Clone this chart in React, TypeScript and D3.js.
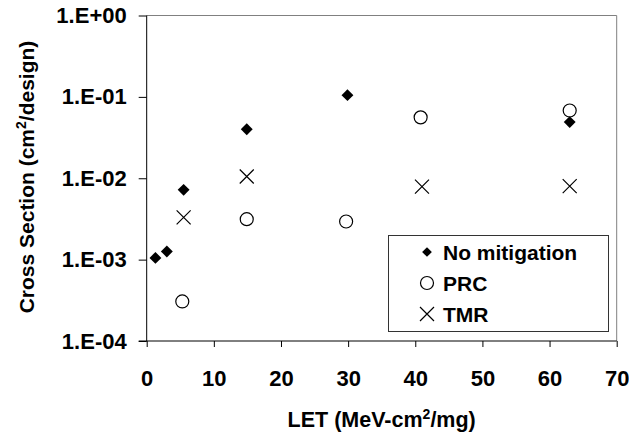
import React, { useEffect, useRef } from 'react';
import * as d3 from 'd3';

// LET (MeV-cm2/mg) and cross section (cm2/design) per design
const noMitigationLet = [1.3, 3.0, 5.5, 14.9, 29.9, 63.0];
const noMitigationCs = [1.05e-3, 1.26e-3, 7.2e-3, 4.0e-2, 1.05e-1, 4.9e-2];
const prcLet = [5.3, 14.9, 29.7, 40.8, 63.0];
const prcCs = [3.06e-4, 3.14e-3, 2.94e-3, 5.6e-2, 6.8e-2];
const tmrLet = [5.5, 14.9, 41.0, 63.0];
const tmrCs = [3.3e-3, 1.05e-2, 7.9e-3, 8.0e-3];

const xTicks = [0, 10, 20, 30, 40, 50, 60, 70];
const yTicks = [1e-4, 1e-3, 1e-2, 1e-1, 1];
const yTickLabels = ['1.E-04', '1.E-03', '1.E-02', '1.E-01', '1.E+00'];
const legendLabels = ['No mitigation', 'PRC', 'TMR'];

const W = 629;
const H = 433;
const FONT = '"Liberation Sans", Arial, sans-serif';

const App = () => {
    const ref = useRef<SVGSVGElement | null>(null);

    useEffect(() => {
        const svg = d3.select(ref.current);
        svg.selectAll('*').remove();

        const left = 146.7, right = 616.7, top = 15.5, bottom = 341;
        const x = d3.scaleLinear().domain([0, 70]).range([left, right]);
        const y = d3.scaleLog().domain([1e-4, 1]).range([bottom, top]);

        // frame
        svg.append('line').attr('x1', left).attr('x2', right).attr('y1', top).attr('y2', top)
            .attr('stroke', '#808080').attr('stroke-width', 1);
        svg.append('line').attr('x1', right).attr('x2', right).attr('y1', top).attr('y2', bottom)
            .attr('stroke', '#808080').attr('stroke-width', 1);

        const yAxis = d3.axisLeft(y)
            .tickValues(yTicks)
            .tickSize(8)
            .tickFormat((d, i) => yTickLabels[i]);
        const gy = svg.append('g').attr('transform', `translate(${left},0)`).call(yAxis);
        gy.select('.domain').attr('stroke', '#000').attr('d', `M0,${top}V${bottom}`);
        gy.selectAll('.tick line').attr('stroke', '#000');
        gy.selectAll('.tick text')
            .attr('x', -20)
            .attr('fill', '#000')
            .style('font-family', FONT).style('font-size', '22px').style('font-weight', 'bold');

        const xAxis = d3.axisBottom(x).tickValues(xTicks).tickSize(6).tickFormat(d3.format('d'));
        const gx = svg.append('g').attr('transform', `translate(0,${bottom})`).call(xAxis);
        gx.select('.domain').attr('stroke', '#000').attr('d', `M${left - 8},0H${right}`);
        gx.selectAll('.tick line').attr('stroke', '#000');
        gx.selectAll('.tick text')
            .attr('y', 29)
            .attr('dy', '0.71em')
            .attr('fill', '#000')
            .style('font-family', FONT).style('font-size', '22px').style('font-weight', 'bold');

        // axis titles
        const xt = svg.append('text').attr('x', (left + right) / 2).attr('y', 427)
            .attr('text-anchor', 'middle')
            .style('font-family', FONT).style('font-size', '21.5px').style('font-weight', 'bold');
        xt.append('tspan').text('LET (MeV-cm');
        xt.append('tspan').attr('dy', -8).style('font-size', '14px').text('2');
        xt.append('tspan').attr('dy', 8).text('/mg)');

        const yt = svg.append('text').attr('transform', `translate(34,177) rotate(-90)`)
            .attr('text-anchor', 'middle')
            .style('font-family', FONT).style('font-size', '21px').style('font-weight', 'bold');
        yt.append('tspan').text('Cross Section (cm');
        yt.append('tspan').attr('dy', -8).style('font-size', '14px').text('2');
        yt.append('tspan').attr('dy', 8).text('/design)');

        const diamond = d3.symbol().type(d3.symbolDiamond2).size(90);
        const circle = (g: any, cx: number, cy: number) =>
            g.append('circle').attr('cx', cx).attr('cy', cy).attr('r', 6.5)
                .attr('fill', 'none').attr('stroke', '#000').attr('stroke-width', 1.2);
        const cross = (g: any, cx: number, cy: number) =>
            g.append('path').attr('d', `M${cx - 7},${cy - 7}L${cx + 7},${cy + 7}M${cx - 7},${cy + 7}L${cx + 7},${cy - 7}`)
                .attr('stroke', '#000').attr('stroke-width', 1.2).attr('fill', 'none');

        const marks = svg.append('g');
        tmrLet.forEach((d, i) => cross(marks, x(d), y(tmrCs[i])));
        prcLet.forEach((d, i) => circle(marks, x(d), y(prcCs[i])));
        marks.selectAll('path.dia')
            .data(noMitigationLet)
            .enter()
            .append('path')
            .attr('class', 'dia')
            .attr('d', diamond)
            .attr('transform', (d, i) => `translate(${x(d)},${y(noMitigationCs[i])})`)
            .attr('fill', '#000');

        // legend
        const lg = svg.append('g');
        lg.append('rect').attr('x', 388.5).attr('y', 235.5).attr('width', 220).attr('height', 96)
            .attr('fill', '#fff').attr('stroke', '#333').attr('stroke-width', 1);
        const rows = [252, 283, 314];
        lg.append('path').attr('d', d3.symbol().type(d3.symbolDiamond2).size(60))
            .attr('transform', `translate(427,${rows[0]})`).attr('fill', '#000');
        circle(lg, 427, rows[1]);
        cross(lg, 427, rows[2]);
        legendLabels.forEach((t, i) => {
            lg.append('text').attr('x', 443).attr('y', rows[i]).attr('dy', '0.36em')
                .style('font-family', FONT).style('font-size', '21px').style('font-weight', 'bold')
                .text(t);
        });
    }, []);

    return (
        <svg ref={ref} width={W} height={H}
             style={{ position: 'absolute', left: 0, top: 0, background: '#fff' }} />
    );
};

export default App;
